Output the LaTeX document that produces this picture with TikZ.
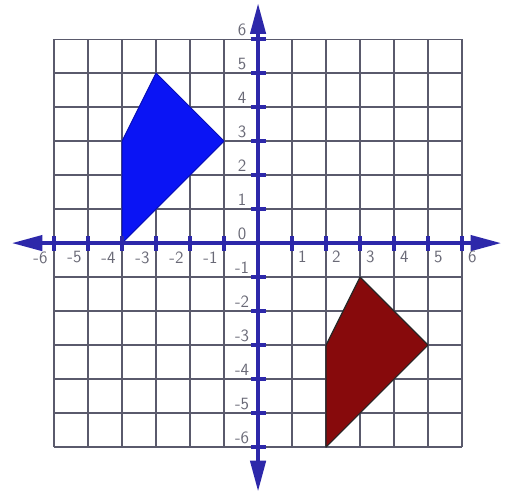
\documentclass[tikz,border=0pt]{standalone}
\usepackage{tikz}
\usetikzlibrary{arrows.meta}
\definecolor{axisblue}{RGB}{45,40,170}
\definecolor{gridgray}{RGB}{90,90,108}
\definecolor{shapeblue}{RGB}{10,20,245}
\definecolor{shapered}{RGB}{135,10,12}
\definecolor{labelgray}{RGB}{105,105,118}
\tikzset{
  gridline/.style={draw=gridgray,line width=1pt},
  axis/.style={draw=axisblue,line width=3pt,
               {Triangle[length=9mm,width=4.5mm]}-{Triangle[length=9mm,width=4.5mm]}},
  tickmark/.style={draw=axisblue,line width=3.5pt},
  num/.style={font=\sffamily\Large,text=labelgray,inner sep=1pt},
  bluebox/.style={fill=shapeblue,draw=shapeblue!75!black,line width=0.8pt,line join=round},
  redbox/.style={fill=shapered,draw=black!85,line width=1pt,line join=round}
}
\begin{document}
\begin{tikzpicture}
  \useasboundingbox (-7.59,-7.35) rectangle (7.41,7.15);
  % graph paper
  \draw[gridline] (-6,-6) grid (6,6);
  % the two figures
  \fill[bluebox] (-4,0) -- (-4,3) -- (-3,5) -- (-1,3) -- cycle;
  \draw[redbox] (2,-6) -- (2,-3) -- (3,-1) -- (5,-3) -- cycle;
  % axes
  \coordinate (xmin) at (-7.24,0);
  \coordinate (xmax) at (7.15,0);
  \coordinate (ymin) at (0,-7.3);
  \coordinate (ymax) at (0,7.05);
  \draw[axis] (xmin) -- (xmax);
  \draw[axis] (ymin) -- (ymax);
  \foreach \i in {-6,...,-1,1,2,...,6} {
    \draw[tickmark] (\i,-0.22) -- (\i,0.22);
    \draw[tickmark] (-0.22,\i) -- (0.22,\i);
  }
  % numbers
  \foreach \i in {1,...,6}
    \node[num] (xl\i) at (\i+0.3,-0.4) {\i};
  \foreach \i in {-6,...,-1}
    \node[num] (xln\i) at (\i-0.4,-0.42) {\i};
  \foreach \i in {-6,...,6}
    \node[num] (yl\i) at (-0.47,\i+0.28) {\i};
\end{tikzpicture}
\end{document}
